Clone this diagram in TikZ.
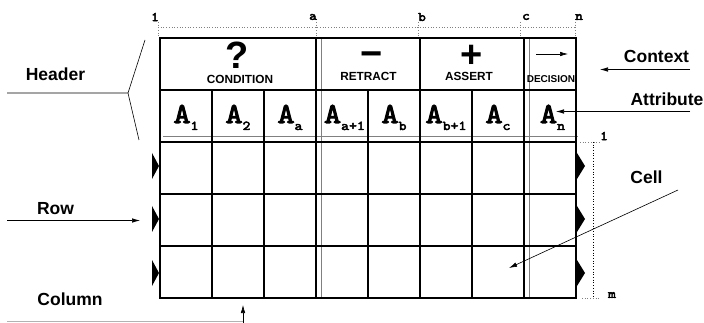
\documentclass[tikz,border=0pt]{standalone}
\usepackage{fontspec}
\setmainfont{Liberation Sans}
\newfontfamily\codefont{lmmono10-regular.otf}[FakeBold=3.5, FakeStretch=1.12]
\usetikzlibrary{arrows.meta}
\newcommand{\calloutfont}{\fontsize{17.5}{20}\selectfont\bfseries}
\newcommand{\headfont}{\fontsize{11.8}{14}\selectfont\bfseries}
\newcommand{\indexfont}{\codefont\fontsize{13}{14}\selectfont}
\newcommand{\attrib}[1]{{\codefont\fontsize{29}{29}\selectfont A}\raisebox{-7pt}{\codefont\fontsize{13.5}{14}\selectfont #1}}
\tikzset{
  tablerule/.style={line width=1.6pt},
  shadowrule/.style={line width=0.8pt, gray},
  guide/.style={dotted, line width=0.7pt, gray},
  callout/.style={font=\calloutfont, inner sep=0pt},
  headtext/.style={font=\headfont, inner sep=0pt},
  bigsign/.style={font=\fontsize{38}{38}\selectfont\bfseries, inner sep=0pt},
  attr/.style={anchor=base, inner sep=0pt},
  index/.style={font=\indexfont, inner sep=0pt},
  rowmark/.style={fill=black}
}
\begin{document}
\begin{tikzpicture}[
    x=1pt, y=-1pt,
    arrow/.style={-{Latex[length=8pt,width=4.5pt]}, line width=0.6pt},
    leader/.style={line width=0.6pt}
  ]
  \useasboundingbox (0,0) rectangle (704,323);

  % index guides
  \draw[guide] (158,27) -- (575,27);
  \foreach \x/\lab/\lx in {158/1/155, 316/a/313, 418/b/422, 520/c/526, 575/n/579}{
    \draw[guide] (\x,22) -- (\x,37);
    \node[index] (top-\lab) at (\lx,17) {\lab};
  }
  \draw[guide] (580,142) -- (600,142);
  \draw[guide] (582,298) -- (600,298);
  \draw[guide, black] (593,142) -- (593,298);
  \node[index] (first-row) at (604,136) {1};
  \node[index] (last-row) at (612,295) {m};

  % table
  \draw[shadowrule] (321,38) -- (321,298);
  \draw[shadowrule] (529,38) -- (529,298);
  \draw[shadowrule] (163,136) -- (578,136);
  \draw[tablerule] (160,38) rectangle (576,298);
  \draw[tablerule] (160,90) -- (576,90);
  \foreach \y in {142,194,246}
    \draw[tablerule] (160,\y) -- (576,\y);
  \foreach \x in {316,420,524}
    \draw[tablerule] (\x,38) -- (\x,298);
  \foreach \x in {212,264,368,472}
    \draw[tablerule] (\x,90) -- (\x,298);

  % row markers
  \foreach \y in {166,219,273}{
    \fill[rowmark] (152,\y-13) -- (159,\y) -- (152,\y+13) -- cycle;
    \fill[rowmark] (577,\y-13) -- (585,\y) -- (577,\y+13) -- cycle;
  }

  % header
  \node[font=\fontsize{38}{38}\selectfont\bfseries, inner sep=0pt] (cond-sign) at (237,55) {?};
  \node[headtext] (condition) at (240,79) {CONDITION};
  \node[bigsign, anchor=base] (retract-sign) at (372,67) {\char"2212};
  \node[headtext] (retract) at (368.5,76) {RETRACT};
  \node[bigsign, anchor=base] (assert-sign) at (472,68) {+};
  \node[headtext] (assert) at (469,76) {ASSERT};
  \coordinate (dec-from) at (536,54);
  \coordinate (dec-to) at (568,54);
  \draw[arrow] (dec-from) -- (dec-to);
  \node[headtext, font=\fontsize{10}{12}\selectfont\bfseries] (decision) at (551,79.5) {DECISION};

  % attributes
  \foreach \x/\sub [count=\i] in {186/1, 238/2, 290/a, 344.5/a+1, 394/b, 446/b+1, 498/c, 552.5/n}
    \node[attr] (attr-\i) at (\x,123) {\attrib{\sub}};

  % callouts
  \node[callout] (header) at (55.5,74.5) {Header};
  \node[callout] (row) at (55.5,209) {Row};
  \node[callout] (column) at (70,299) {Column};
  \node[callout] (context) at (656.5,56.5) {Context};
  \node[callout] (attribute) at (667,99.5) {Attribute};
  \node[callout] (cell) at (646.5,177.5) {Cell};

  \coordinate (header-fork) at (128,93);
  \draw[leader] (7,93) -- (header-fork) -- (145,40);
  \draw[leader] (header-fork) -- (139,140);
  \coordinate (row-to) at (140,220.5);
  \draw[arrow] (7,220.5) -- (row-to);
  \coordinate (column-foot) at (243,321.5);
  \draw[leader, gray!60] (7,321.5) -- (column-foot);
  \coordinate (column-to) at (243,305);
  \draw[arrow] (243,323) -- (column-to);
  \coordinate (context-to) at (600,69.5);
  \draw[arrow] (690,69.5) -- (context-to);
  \coordinate (attribute-to) at (556,111.5);
  \draw[arrow] (690,111.5) -- (attribute-to);
  \coordinate (cell-to) at (509,268);
  \draw[arrow] (678,190) -- (cell-to);

\end{tikzpicture}
\end{document}
